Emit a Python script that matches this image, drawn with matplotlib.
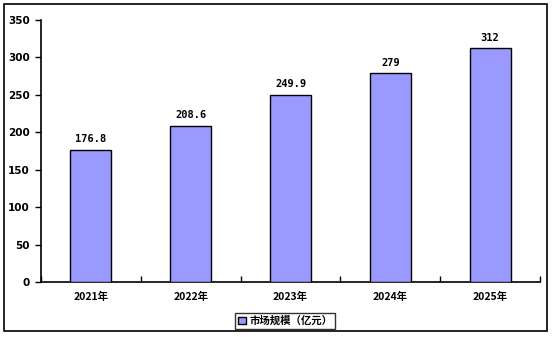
import matplotlib
matplotlib.use("Agg")
import matplotlib.pyplot as plt
from matplotlib.patches import Rectangle

categories = ["2021年", "2022年", "2023年", "2024年", "2025年"]
values = [176.8, 208.6, 249.9, 279, 312]
value_labels = ["176.8", "208.6", "249.9", "279", "312"]
series_name = "市场规模（亿元）"
yticks = [0, 50, 100, 150, 200, 250, 300, 350]

plt.rcParams['font.family'] = ['Noto Sans CJK SC', 'DejaVu Sans']

W, H = 554, 337
fig = plt.figure(figsize=(W/100, H/100), dpi=100)
ax = fig.add_axes([41/W, 1-282/H, 499/W, 262/H])

x = list(range(len(categories)))
bars = ax.bar(x, values, width=0.41, color="#9999FF", edgecolor="black", linewidth=1.0,
              label=series_name, zorder=3)
ax.set_xlim(-0.5, len(categories)-0.5)
ax.set_ylim(0, 350)
ax.set_yticks(yticks)
ax.set_yticklabels([str(t) for t in yticks], fontsize=7.5, fontweight='bold', family='DejaVu Sans')
ax.set_xticks([i+0.5 for i in range(-1, len(categories))], minor=False)
ax.set_xticklabels([])
ax.set_xticks(x, minor=True)
ax.set_xticklabels(categories, minor=True, fontsize=7.5, fontweight='bold')
ax.tick_params(axis='x', which='major', direction='in', length=4, width=1)
ax.tick_params(axis='x', which='minor', length=0, pad=7)
ax.tick_params(axis='y', direction='out', length=4, width=1, pad=4)
for s in ['top', 'right']:
    ax.spines[s].set_visible(False)
for s in ['left', 'bottom']:
    ax.spines[s].set_linewidth(1.2)

for xi, v, lab in zip(x, values, value_labels):
    ax.annotate(lab, (xi, v), xytext=(0, 4), textcoords='offset points', ha='center', va='bottom',
                fontsize=7.5, fontweight='bold', family='DejaVu Sans Mono')

leg = ax.legend(loc='center', bbox_to_anchor=(285/W, 1-321/H), bbox_transform=fig.transFigure,
                fontsize=7.5, frameon=True, fancybox=False, edgecolor='black', handlelength=0.8,
                handleheight=0.8, handletextpad=0.3, borderpad=0.25, borderaxespad=0,
                prop={'weight': 'bold', 'size': 7.5})
leg.get_frame().set_linewidth(1.0)

fig.patches.append(Rectangle((4/W, 1-331/H), 543/W, 327/H, transform=fig.transFigure,
                             fill=False, edgecolor='black', linewidth=1.2))

fig.savefig("out.png", dpi=100)
